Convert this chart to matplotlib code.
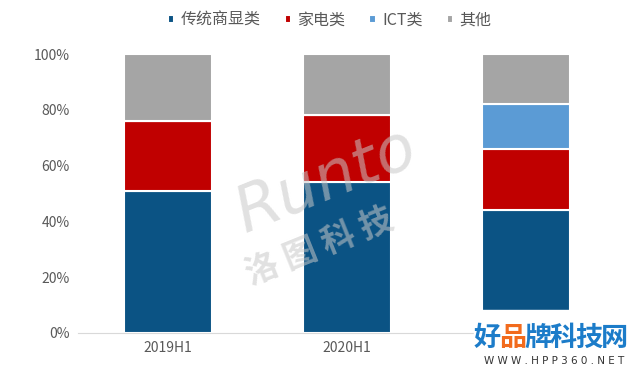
import numpy as np
import matplotlib.pyplot as plt

plt.rcParams['font.family'] = ['Noto Sans CJK SC', 'DejaVu Sans']

# data (share, %)
periods = ['2019H1', '2020H1', '2021H1']
traditional = [51, 54, 44]
appliance = [25, 24, 22]
ict = [0, 0, 16]
others = [24, 22, 18]

series = ['传统商显类', '家电类', 'ICT类', '其他']
colors = ['#0B5384', '#C00000', '#5B9BD5', '#A5A5A5']
values = [traditional, appliance, ict, others]

fig = plt.figure(figsize=(6.4, 3.69), dpi=100)
ax = fig.add_axes([78/640, 36/369, 538/640, 297/369])

x = np.arange(len(periods))
bottom = np.zeros(len(periods))
handles = []
for name, vals, c in zip(series, values, colors):
    vals = np.array(vals, dtype=float)
    b = ax.bar(x, vals, 0.49, bottom=bottom, color=c, edgecolor='white',
               linewidth=1.5, label=name)
    handles.append(b)
    bottom += vals

ax.set_xlim(-0.5, 2.5)
ax.set_ylim(0, 106.5)
ax.set_yticks(np.arange(0, 101, 20))
ax.set_yticklabels([f'{v}%' for v in range(0, 101, 20)])
ax.set_xticks(x)
ax.set_xticklabels(periods)
# the last period label is hidden under the site logo in the original
ax.get_xticklabels()[-1].set_visible(False)
ax.tick_params(axis='both', length=0, labelsize=10, colors='#595959', pad=6)
for s in ['top', 'right', 'left']:
    ax.spines[s].set_visible(False)
ax.spines['bottom'].set_color('#D9D9D9')

leg = fig.legend(handles, series, loc='center', bbox_to_anchor=(0.515, 0.946),
                 ncol=4, frameon=False, handlelength=0.4,
                 handleheight=0.4, handletextpad=0.4, columnspacing=1.5,
                 prop={'weight': 'medium', 'size': 11.5})
for t in leg.get_texts():
    t.set_color('#595959')

# watermark
fig.text(0.51, 0.51, 'Runto', fontsize=46, color='#C8C8C8', alpha=0.55,
         rotation=22, ha='center', va='center', style='italic',
         family='DejaVu Sans')
fig.text(0.5, 0.33, '洛 图 科 技', fontsize=24, color='#C8C8C8', alpha=0.55,
         rotation=22, ha='center', va='center', fontweight='bold')

# bottom-right logo
fig.patches.append(plt.Rectangle((474/640, 0), 166/640, 59/369,
                                 transform=fig.transFigure, color='white',
                                 zorder=5))
logo_chars = ['好', '品', '牌', '科', '技', '网']
logo_cols = ['#1C7CC9', '#F26B1D', '#1C7CC9', '#1C7CC9', '#1C7CC9', '#1C7CC9']
for i, (ch, c) in enumerate(zip(logo_chars, logo_cols)):
    fig.text((487 + i * 25.5) / 640, 0.085, ch, fontsize=19.5, color=c,
             fontweight='bold', ha='center', va='center', zorder=6)
fig.text(0.866, 0.022, 'W W W . H P P 3 6 0 . N E T', fontsize=7.5,
         color='#333333', ha='center', va='center', zorder=6,
         family='DejaVu Sans')

fig.savefig('out.png', dpi=100)
